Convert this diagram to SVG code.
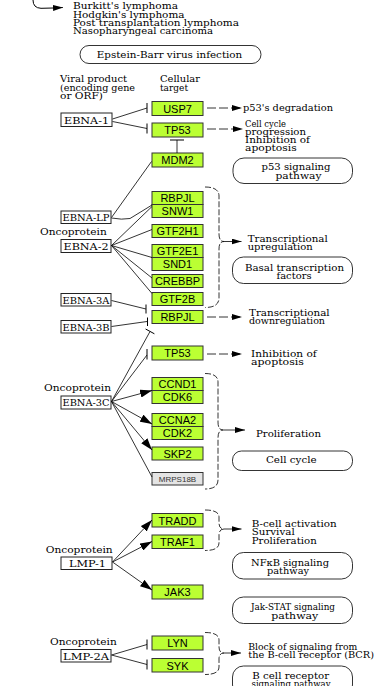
<svg xmlns="http://www.w3.org/2000/svg" width="382" height="686" viewBox="0 0 382 686">
<defs>
<style>
.g rect{fill:#bbff33;stroke:#333;stroke-width:1}
.gr rect{fill:#e4e4e4;stroke:#333;stroke-width:1}
.gt{font-family:"Liberation Sans",Arial,sans-serif;font-size:11px;text-anchor:middle;fill:#000}
.mt{font-family:"Liberation Sans",Arial,sans-serif;font-size:8px;text-anchor:middle;fill:#333}
.v rect{fill:#fff;stroke:#222;stroke-width:1}
.vt{font-family:"DejaVu Serif","Liberation Serif",serif;font-size:9.5px;fill:#000}
.s{font-family:"DejaVu Serif","Liberation Serif",serif;font-size:8.8px;fill:#000}
.c{text-anchor:middle}
.p{fill:#fff;stroke:#000;stroke-width:0.8}
.ln{stroke:#000;stroke-width:0.8;fill:none}
.b{stroke:#000;stroke-width:1;fill:none}
.d{stroke:#000;stroke-width:0.8;fill:none;stroke-dasharray:9,3}
.br{stroke:#000;stroke-width:0.8;fill:none;stroke-dasharray:6,2}
</style>
<marker id="ah" viewBox="0 0 10 6" refX="10" refY="3" markerWidth="10" markerHeight="6" markerUnits="userSpaceOnUse" orient="auto"><path d="M0,0L10,3L0,6z" fill="#000"/></marker>
<marker id="ah2" viewBox="0 0 12 8" refX="12" refY="4" markerWidth="12" markerHeight="8" markerUnits="userSpaceOnUse" orient="auto"><path d="M0,0L12,4L0,8z" fill="#000"/></marker>
</defs>

<!-- free texts -->
<g id="diseases">
<text class="s" x="73" y="9.3" textLength="105" lengthAdjust="spacingAndGlyphs">Burkitt's lymphoma</text>
<text class="s" x="73" y="17.7" textLength="111.5" lengthAdjust="spacingAndGlyphs">Hodgkin's lymphoma</text>
<text class="s" x="73" y="26" textLength="166" lengthAdjust="spacingAndGlyphs">Post transplantation lymphoma</text>
<text class="s" x="73" y="34.3" textLength="140" lengthAdjust="spacingAndGlyphs">Nasopharyngeal carcinoma</text>
</g>
<g id="ebv-infection">
<rect class="p" x="80" y="45.5" width="181" height="18" rx="9"/>
<text class="s c" x="169.5" y="57.5" textLength="145.5" lengthAdjust="spacingAndGlyphs">Epstein-Barr virus infection</text>
</g>
<g id="headers">
<text class="s" x="60" y="82" textLength="67" lengthAdjust="spacingAndGlyphs">Viral product</text>
<text class="s" x="60" y="90.5" textLength="75" lengthAdjust="spacingAndGlyphs">(encoding gene</text>
<text class="s" x="60" y="99" textLength="43" lengthAdjust="spacingAndGlyphs">or ORF)</text>
<text class="s" x="160" y="82" textLength="40" lengthAdjust="spacingAndGlyphs">Cellular</text>
<text class="s" x="160" y="90.5" textLength="28" lengthAdjust="spacingAndGlyphs">target</text>
</g>

<!-- viral products -->
<g id="EBNA-1" class="v"><rect x="61" y="113" width="51" height="13.5"/><text class="vt" x="64" y="123.5" textLength="45" lengthAdjust="spacingAndGlyphs">EBNA-1</text></g>
<g id="EBNA-LP" class="v"><rect x="61" y="211" width="50" height="12.5"/><text class="vt" x="62.5" y="221" textLength="47" lengthAdjust="spacingAndGlyphs">EBNA-LP</text></g>
<g id="EBNA-2" class="v"><text class="s" x="40" y="235" textLength="66.7" lengthAdjust="spacingAndGlyphs">Oncoprotein</text><rect x="61" y="239.5" width="50" height="13"/><text class="vt" x="63.5" y="250" textLength="45" lengthAdjust="spacingAndGlyphs">EBNA-2</text></g>
<g id="EBNA-3A" class="v"><rect x="61" y="293.5" width="50" height="12.5"/><text class="vt" x="62.5" y="303.5" textLength="47" lengthAdjust="spacingAndGlyphs">EBNA-3A</text></g>
<g id="EBNA-3B" class="v"><rect x="61" y="320.5" width="50" height="12.5"/><text class="vt" x="62.5" y="330.5" textLength="47" lengthAdjust="spacingAndGlyphs">EBNA-3B</text></g>
<g id="EBNA-3C" class="v"><text class="s" x="44" y="391" textLength="67" lengthAdjust="spacingAndGlyphs">Oncoprotein</text><rect x="61" y="396" width="50" height="13"/><text class="vt" x="62.5" y="406" textLength="47" lengthAdjust="spacingAndGlyphs">EBNA-3C</text></g>
<g id="LMP-1" class="v"><text class="s" x="45.7" y="553" textLength="67" lengthAdjust="spacingAndGlyphs">Oncoprotein</text><rect x="61" y="557" width="51" height="12.5"/><text class="vt" x="69" y="567" textLength="37" lengthAdjust="spacingAndGlyphs">LMP-1</text></g>
<g id="LMP-2A" class="v"><text class="s" x="50" y="644.5" textLength="66.7" lengthAdjust="spacingAndGlyphs">Oncoprotein</text><rect x="61" y="649.5" width="50" height="12.5"/><text class="vt" x="63" y="659.5" textLength="46" lengthAdjust="spacingAndGlyphs">LMP-2A</text></g>

<!-- cellular targets -->
<g id="USP7" class="g"><rect x="152" y="101.5" width="51" height="14"/><text class="gt" x="177.5" y="112.5">USP7</text></g>
<g id="TP53-1" class="g"><rect x="152" y="123" width="51" height="14"/><text class="gt" x="177.5" y="134">TP53</text></g>
<g id="MDM2" class="g"><rect x="152" y="153" width="51" height="14"/><text class="gt" x="177.5" y="164">MDM2</text></g>
<g id="RBPJL-1" class="g"><rect x="152" y="191.5" width="51" height="13"/><text class="gt" x="177.5" y="202">RBPJL</text></g>
<g id="SNW1" class="g"><rect x="152" y="204.5" width="51" height="13"/><text class="gt" x="177.5" y="215">SNW1</text></g>
<g id="GTF2H1" class="g"><rect x="152" y="224.5" width="51" height="13"/><text class="gt" x="177.5" y="235">GTF2H1</text></g>
<g id="GTF2E1" class="g"><rect x="152" y="244.5" width="51" height="13"/><text class="gt" x="177.5" y="255">GTF2E1</text></g>
<g id="SND1" class="g"><rect x="152" y="257.5" width="51" height="13"/><text class="gt" x="177.5" y="268">SND1</text></g>
<g id="CREBBP" class="g"><rect x="152" y="274.5" width="51" height="13"/><text class="gt" x="177.5" y="285">CREBBP</text></g>
<g id="GTF2B" class="g"><rect x="152" y="292.5" width="51" height="13"/><text class="gt" x="177.5" y="303">GTF2B</text></g>
<g id="RBPJL-2" class="g"><rect x="152" y="310.5" width="51" height="13"/><text class="gt" x="177.5" y="321">RBPJL</text></g>
<g id="TP53-2" class="g"><rect x="152" y="346" width="51" height="14"/><text class="gt" x="177.5" y="357">TP53</text></g>
<g id="CCND1" class="g"><rect x="152" y="377.5" width="51" height="13"/><text class="gt" x="177.5" y="388">CCND1</text></g>
<g id="CDK6" class="g"><rect x="152" y="390.5" width="51" height="13"/><text class="gt" x="177.5" y="401">CDK6</text></g>
<g id="CCNA2" class="g"><rect x="152" y="413.5" width="51" height="13"/><text class="gt" x="177.5" y="424">CCNA2</text></g>
<g id="CDK2" class="g"><rect x="152" y="426.5" width="51" height="13"/><text class="gt" x="177.5" y="437">CDK2</text></g>
<g id="SKP2" class="g"><rect x="152" y="447" width="51" height="13"/><text class="gt" x="177.5" y="457.5">SKP2</text></g>
<g id="MRPS18B" class="gr"><rect x="152" y="472.5" width="51" height="12.5"/><text class="mt" x="177.5" y="481.5">MRPS18B</text></g>
<g id="TRADD" class="g"><rect x="152" y="513.5" width="51" height="13.5"/><text class="gt" x="177.5" y="524.5">TRADD</text></g>
<g id="TRAF1" class="g"><rect x="152" y="535" width="51" height="13.5"/><text class="gt" x="177.5" y="546">TRAF1</text></g>
<g id="JAK3" class="g"><rect x="152" y="585" width="51" height="14"/><text class="gt" x="177.5" y="596">JAK3</text></g>
<g id="LYN" class="g"><rect x="152" y="636" width="51" height="14"/><text class="gt" x="177.5" y="647">LYN</text></g>
<g id="SYK" class="g"><rect x="152" y="658.5" width="51" height="13.5"/><text class="gt" x="177.5" y="669.5">SYK</text></g>

<!-- outcomes -->
<g id="out-p53deg"><text class="s" x="243" y="111" textLength="90" lengthAdjust="spacingAndGlyphs">p53's degradation</text></g>
<g id="out-cellcycle1">
<text class="s" x="245" y="126.5" textLength="41" lengthAdjust="spacingAndGlyphs">Cell cycle</text>
<text class="s" x="245" y="134.5" textLength="61" lengthAdjust="spacingAndGlyphs">progression</text>
<text class="s" x="245" y="142.5" textLength="65" lengthAdjust="spacingAndGlyphs">Inhibition of</text>
<text class="s" x="245" y="150.7" textLength="51.7" lengthAdjust="spacingAndGlyphs">apoptosis</text>
</g>
<g id="p53-pathway"><rect class="p" x="233" y="158" width="119.5" height="25.5" rx="11"/><text class="s c" x="296" y="170" textLength="69" lengthAdjust="spacingAndGlyphs">p53 signaling</text><text class="s c" x="298.5" y="178.5" textLength="46" lengthAdjust="spacingAndGlyphs">pathway</text></g>
<g id="out-transup"><text class="s" x="247.7" y="241.5" textLength="80" lengthAdjust="spacingAndGlyphs">Transcriptional</text><text class="s" x="247.7" y="249.7" textLength="65" lengthAdjust="spacingAndGlyphs">upregulation</text></g>
<g id="basal-tf"><rect class="p" x="232.5" y="257" width="120" height="26.5" rx="11"/><text class="s c" x="294.5" y="270.5" textLength="99" lengthAdjust="spacingAndGlyphs">Basal transcription</text><text class="s c" x="294" y="278.5" textLength="35" lengthAdjust="spacingAndGlyphs">factors</text></g>
<g id="out-transdown"><text class="s" x="249" y="315.5" textLength="80.7" lengthAdjust="spacingAndGlyphs">Transcriptional</text><text class="s" x="249" y="324" textLength="76" lengthAdjust="spacingAndGlyphs">downregulation</text></g>
<g id="out-inhib2"><text class="s" x="251" y="356.5" textLength="65.7" lengthAdjust="spacingAndGlyphs">Inhibition of</text><text class="s" x="251" y="365" textLength="53" lengthAdjust="spacingAndGlyphs">apoptosis</text></g>
<g id="out-prolif"><text class="s" x="256" y="436.5" textLength="65" lengthAdjust="spacingAndGlyphs">Proliferation</text></g>
<g id="cell-cycle"><rect class="p" x="232.5" y="451" width="120" height="19.5" rx="9"/><text class="s c" x="291.3" y="463" textLength="50.7" lengthAdjust="spacingAndGlyphs">Cell cycle</text></g>
<g id="out-bcell"><text class="s" x="251.7" y="526.5" textLength="85" lengthAdjust="spacingAndGlyphs">B-cell activation</text><text class="s" x="251.7" y="535" textLength="43" lengthAdjust="spacingAndGlyphs">Survival</text><text class="s" x="251.7" y="543.5" textLength="65" lengthAdjust="spacingAndGlyphs">Proliferation</text></g>
<g id="nfkb"><rect class="p" x="232.5" y="552.5" width="120" height="26.5" rx="11"/><text class="s c" x="290" y="565.5" textLength="78" lengthAdjust="spacingAndGlyphs">NFκB signaling</text><text class="s c" x="288" y="574" textLength="42" lengthAdjust="spacingAndGlyphs">pathway</text></g>
<g id="jakstat"><rect class="p" x="232.5" y="597" width="120" height="26.5" rx="11"/><text class="s c" x="293" y="610" textLength="84" lengthAdjust="spacingAndGlyphs">Jak-STAT signaling</text><text class="s c" x="294.7" y="618.5" textLength="47" lengthAdjust="spacingAndGlyphs">pathway</text></g>
<g id="out-bcr"><text class="s" x="248.3" y="649.5" textLength="109" lengthAdjust="spacingAndGlyphs">Block of signaling from</text><text class="s" x="248.3" y="658" textLength="125.7" lengthAdjust="spacingAndGlyphs">the B-cell receptor (BCR)</text></g>
<g id="bcr-pathway"><rect class="p" x="232.5" y="666" width="120" height="30" rx="11"/><text class="s c" x="290.7" y="678.5" textLength="76.7" lengthAdjust="spacingAndGlyphs">B cell receptor</text><text class="s c" x="291" y="687" textLength="79" lengthAdjust="spacingAndGlyphs">signaling pathway</text></g>

<!-- connectors -->
<g id="connectors">
<path class="ln" d="M33,0Q33,8 41,8.3L53,8" style="stroke-width:1"/>
<path class="ln" d="M53,8L63,7.5" marker-end="url(#ah)"/>
<!-- EBNA-1 -->
<path class="ln" d="M112.5,119L147,108"/><path class="b" d="M147,103V113"/>
<path class="ln" d="M112.5,121.5L147,128.5"/><path class="b" d="M147,123.5V133.5"/>
<!-- MDM2 -| TP53 -->
<path class="ln" d="M177,153V140"/><path class="b" d="M170,140H184"/>
<!-- EBNA-LP -->
<path class="ln" d="M111.5,217.5L151.5,161.5"/>
<path class="ln" d="M111.5,218Q122,220 130,218.5L152,205"/>
<!-- EBNA-2 -->
<path class="ln" d="M111.5,245.5L152,206.5"/>
<path class="ln" d="M111.5,245.5L152,229.5"/>
<path class="ln" d="M111.5,245.5L152,257.5"/>
<path class="ln" d="M111.5,245.5L152,278"/>
<path class="ln" d="M111.5,245.5L152,293.5"/>
<!-- EBNA-3A/3B -| RBPJL -->
<path class="ln" d="M111.5,300.5L146,309"/><path class="b" d="M146,304.5V313.5"/>
<path class="ln" d="M111.5,326.5L147,321.5"/><path class="b" d="M147.5,317.5V326"/>
<!-- EBNA-3C -->
<path class="ln" d="M111.5,401.5L150,331.5"/><path class="b" d="M145.6,329L154.4,333.8"/>
<path class="ln" d="M111.5,401.5L147,355"/><path class="b" d="M147,349V359.5"/>
<path class="ln" d="M111.5,401.5L152,390.5" marker-end="url(#ah2)"/>
<path class="ln" d="M111.5,401.5L152,424" marker-end="url(#ah2)"/>
<path class="ln" d="M111.5,401.5L152,450" marker-end="url(#ah2)"/>
<path class="ln" d="M111.5,401.5L152,477"/>
<!-- LMP-1 -->
<path class="ln" d="M112.5,562L152,520" marker-end="url(#ah2)"/>
<path class="ln" d="M112.5,562L152,541.5" marker-end="url(#ah2)"/>
<path class="ln" d="M112.5,562L152,590" marker-end="url(#ah2)"/>
<!-- LMP-2A -->
<path class="ln" d="M111.5,655L147,644.5"/><path class="b" d="M147,639.5V649.5"/>
<path class="ln" d="M111.5,655L147,664.5"/><path class="b" d="M147,659.5V669.5"/>
<!-- dashed outcome arrows -->
<path class="d" d="M207,108H242" marker-end="url(#ah)"/>
<path class="d" d="M207,129H243" marker-end="url(#ah)"/>
<path class="d" d="M207,317H242" marker-end="url(#ah)"/>
<path class="d" d="M207,354H242" marker-end="url(#ah)"/>
<!-- braces -->
<path class="br" d="M205,187Q219,187 219,196V234Q219,241.5 224,241.5Q219,241.5 219,249V298Q219,307.5 205,307.5"/>
<path class="ln" d="M224,241.5H241.5" marker-end="url(#ah)"/>
<path class="br" d="M205,373.5Q218,373.5 218,382V422Q218,430 223,430Q218,430 218,438V480Q218,489 205,489"/>
<path class="ln" d="M223,430H245" marker-end="url(#ah)"/>
<path class="br" d="M205,510Q219,510 219,517V523Q219,529 224,529Q219,529 219,535V543Q219,550.5 205,550.5"/>
<path class="ln" d="M224,529H241.5" marker-end="url(#ah)"/>
<path class="br" d="M205,632.5Q219,632.5 219,640V647Q219,653 224,653Q219,653 219,659V667Q219,674.5 205,674.5"/>
<path class="ln" d="M224,653H241" marker-end="url(#ah)"/>
</g>
</svg>
